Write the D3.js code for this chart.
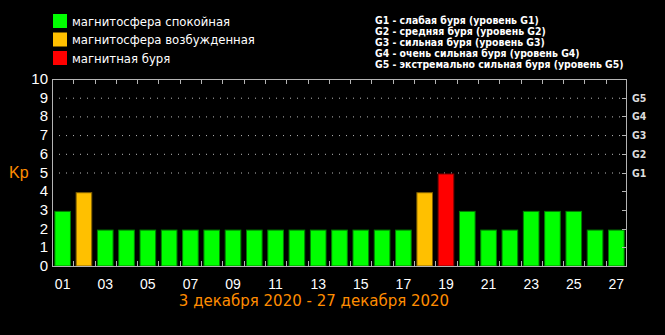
<!DOCTYPE html>
<html>
<head>
<meta charset="utf-8">
<script src="https://cdn.jsdelivr.net/npm/d3@7"></script>
<style>
  html, body { margin: 0; padding: 0; background: #000; }
  svg { display: block; }
</style>
</head>
<body>
<div id="chart"></div>
<script>
// Kp index, 3–27 December 2020 (day labels 01..27)
const days = d3.range(1, 28).map(d => String(d).padStart(2, '0'));
const kp = [3, 4, 2, 2, 2, 2, 2, 2, 2, 2, 2, 2, 2, 2, 2, 2, 2, 4, 5, 3, 2, 2, 3, 3, 3, 2, 2];
const yTicks = d3.range(0, 11);
const gLevels = [{ kp: 5, label: 'G1' }, { kp: 6, label: 'G2' }, { kp: 7, label: 'G3' },
                 { kp: 8, label: 'G4' }, { kp: 9, label: 'G5' }];
const legendLeft = [
  { text: 'магнитосфера спокойная', color: '#00ff00' },
  { text: 'магнитосфера возбужденная', color: '#ffc000' },
  { text: 'магнитная буря', color: '#ff0000' }
];
const legendRight = [
  'G1 - слабая буря (уровень G1)',
  'G2 - средняя буря (уровень G2)',
  'G3 - сильная буря (уровень G3)',
  'G4 - очень сильная буря (уровень G4)',
  'G5 - экстремально сильная буря (уровень G5)'
];
const title = '3 декабря 2020 - 27 декабря 2020';

function barColor(v) {
  if (v >= 5) return '#ff0000';
  if (v === 4) return '#ffc000';
  return '#00ff00';
}
function barStroke(v) {
  if (v >= 5) return '#800000';
  if (v === 4) return '#806000';
  return '#008000';
}

// shrink/grow a text group's font so its widest line fits a given width
function fitWidth(sel, target, baseSize) {
  const widest = d3.max(sel.nodes(), n => n.getComputedTextLength());
  sel.attr('font-size', baseSize * target / widest);
}

const W = 665, H = 335;
const plotL = 52, plotR = 627, plotT = 79, plotB = 266;

const svg = d3.select('#chart').append('svg')
  .attr('width', W).attr('height', H)
  .style('background', '#000');

const x = d3.scaleBand().domain(days).range([plotL, plotR]).paddingInner(0.22).paddingOuter(0.11);
const y = d3.scaleLinear().domain([0, 10]).range([plotB, plotT]);

// dotted storm-level lines
svg.append('g').selectAll('line').data(gLevels).join('line')
  .attr('x1', plotL).attr('x2', plotR)
  .attr('y1', d => y(d.kp) + 0.5).attr('y2', d => y(d.kp) + 0.5)
  .attr('stroke', '#bbb').attr('stroke-width', 1)
  .attr('stroke-dasharray', '1,6');

// bars
svg.append('g').selectAll('rect').data(kp).join('rect')
  .attr('x', (d, i) => x(days[i]) + 0.5)
  .attr('y', d => y(d) + 1.5)
  .attr('width', x.bandwidth() - 1)
  .attr('height', d => plotB - y(d) - 1.5)
  .attr('fill', d => barColor(d))
  .attr('stroke', d => barStroke(d))
  .attr('stroke-width', 1);

// frame
const axisColor = '#b4b4b4';
svg.append('rect')
  .attr('x', plotL + 0.5).attr('y', plotT + 0.5)
  .attr('width', plotR - plotL - 1).attr('height', plotB - plotT)
  .attr('fill', 'none').attr('stroke', axisColor).attr('stroke-width', 1);

// band boundary ticks top & bottom
const step = x.step();
const bounds = days.slice(1).map(d => x(d) - (step - x.bandwidth()) / 2);
svg.append('g').selectAll('line').data(bounds).join('line')
  .attr('x1', d => Math.round(d) + 0.5).attr('x2', d => Math.round(d) + 0.5)
  .attr('y1', plotB).attr('y2', plotB - 5)
  .attr('stroke', axisColor);
svg.append('g').selectAll('line').data(bounds).join('line')
  .attr('x1', d => Math.round(d) + 0.5).attr('x2', d => Math.round(d) + 0.5)
  .attr('y1', plotT).attr('y2', plotT + 5)
  .attr('stroke', axisColor);

// right ticks
svg.append('g').selectAll('line').data(yTicks.slice(1, 10)).join('line')
  .attr('x1', plotR - 5).attr('x2', plotR)
  .attr('y1', d => Math.round(y(d)) + 0.5).attr('y2', d => Math.round(y(d)) + 0.5)
  .attr('stroke', axisColor);

// left axis labels
svg.append('g').selectAll('text').data(yTicks).join('text')
  .attr('x', 48).attr('y', d => y(d) + 5)
  .attr('text-anchor', 'end')
  .attr('font-family', 'Liberation Sans, Arial, sans-serif')
  .attr('font-size', 15)
  .attr('fill', '#fff')
  .text(d => d);

// right G labels
svg.append('g').selectAll('text').data(gLevels).join('text')
  .attr('x', 632).attr('y', d => y(d.kp) + 4)
  .attr('font-family', 'DejaVu Sans Condensed, DejaVu Sans, sans-serif')
  .attr('font-weight', 'bold')
  .attr('font-size', 10.5)
  .attr('fill', '#ddd')
  .text(d => d.label);

// Kp label
svg.append('text')
  .attr('x', 9).attr('y', 178)
  .attr('font-family', 'Liberation Sans, Arial, sans-serif')
  .attr('font-size', 16)
  .attr('fill', '#ff8c00')
  .text('Kp');

// x labels (odd days)
svg.append('g').selectAll('text').data(days.filter((d, i) => i % 2 === 0)).join('text')
  .attr('x', d => x(d) + x.bandwidth() / 2).attr('y', 289)
  .attr('text-anchor', 'middle')
  .attr('font-family', 'Liberation Sans, Arial, sans-serif')
  .attr('font-size', 14)
  .attr('fill', '#fff')
  .text(d => d);

// date range title
svg.append('text')
  .attr('x', 314).attr('y', 306)
  .attr('text-anchor', 'middle')
  .attr('font-family', 'DejaVu Sans, Verdana, sans-serif')
  .attr('font-size', 15)
  .attr('fill', '#ff8c00')
  .text(title);

// left legend
const lg = svg.append('g');
lg.selectAll('rect').data(legendLeft).join('rect')
  .attr('x', 53).attr('y', (d, i) => 14 + i * 18.5)
  .attr('width', 14).attr('height', 14)
  .attr('fill', d => d.color);
const lgText = lg.selectAll('text').data(legendLeft).join('text')
  .attr('x', 72).attr('y', (d, i) => 25.5 + i * 18.5)
  .attr('font-family', 'DejaVu Sans, Verdana, sans-serif')
  .attr('font-size', 12)
  .attr('fill', '#fff')
  .text(d => d.text);
fitWidth(lgText, 183, 12);

// right legend
const rgText = svg.append('g').selectAll('text').data(legendRight).join('text')
  .attr('x', 375).attr('y', (d, i) => 24 + i * 11)
  .attr('font-family', 'DejaVu Sans Condensed, DejaVu Sans, sans-serif')
  .attr('font-weight', 'bold')
  .attr('font-size', 10.5)
  .attr('fill', '#fff')
  .text(d => d);
fitWidth(rgText, 249, 10.5);
</script>
</body>
</html>
